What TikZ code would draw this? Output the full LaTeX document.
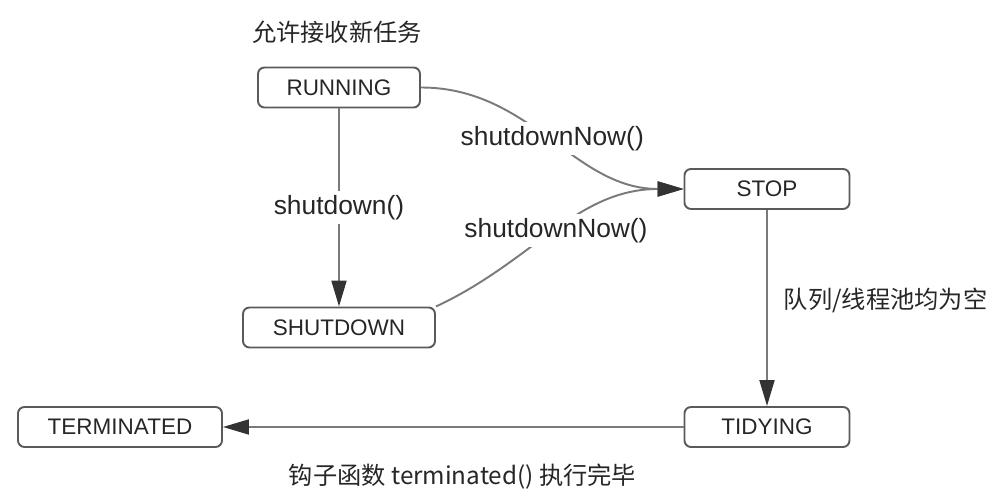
\documentclass[tikz,border=0pt]{standalone}
\usepackage{fontspec}
\setmainfont{Liberation Sans}
\newfontfamily\cjk{Noto Sans CJK SC}
\usetikzlibrary{arrows.meta,positioning}
\definecolor{boxgray}{HTML}{5A5A5A}
\definecolor{linegray}{HTML}{7A7A7A}
\definecolor{tipgray}{HTML}{333333}
\tikzset{
    state/.style={draw=boxgray, line width=1.1pt, rounded corners=1.3mm, minimum height=8mm, inner sep=0pt, font=\fontsize{12.8}{14}\selectfont, text=black!85},
    edge/.style={draw=linegray, line width=1.1pt, -{Triangle[length=5.2mm, width=3mm, color=tipgray]}},
    label/.style={fill=white, inner sep=2.5pt, font=\fontsize{15}{17}\selectfont, text=black!85},
    cnlabel/.style={font=\cjk\fontsize{13.8}{16}\selectfont, text=black!85}
}

\begin{document}
\begin{tikzpicture}
    \useasboundingbox (0,0) rectangle (20.08,9.88);
    % Nodes
    \node[state, minimum width=3.24cm] (running) at (6.78,8.13) {RUNNING};
    \node[state, minimum width=3.30cm] (stop) at (15.34,6.10) {STOP};
    \node[state, minimum width=3.84cm] (shutdown) at (6.78,3.33) {SHUTDOWN};
    \node[state, minimum width=3.30cm] (tidying) at (15.34,1.34) {TIDYING};
    \node[state, minimum width=4.08cm] (terminated) at (2.40,1.34) {TERMINATED};
    \node[cnlabel] (title) at (6.74,9.23) {允许接收新任务};

    % edges
    \draw[edge] (running) -- node[label] {shutdown()} (shutdown);
    \draw[edge] (running.east) to[out=0, in=180] node[label] {shutdownNow()} (stop.west);
    \draw[edge] (shutdown.north east) to[out=25, in=180] node[label, pos=0.5] {shutdownNow()} (stop.west);
    \draw[edge] (stop) -- node[cnlabel, anchor=west, xshift=2mm, pos=0.46] {队列/线程池均为空} (tidying);
    \draw[edge] (tidying) -- node[cnlabel, below=6mm, pos=0.48] {钩子函数 terminated() 执行完毕} (terminated);
\end{tikzpicture}
\end{document}
